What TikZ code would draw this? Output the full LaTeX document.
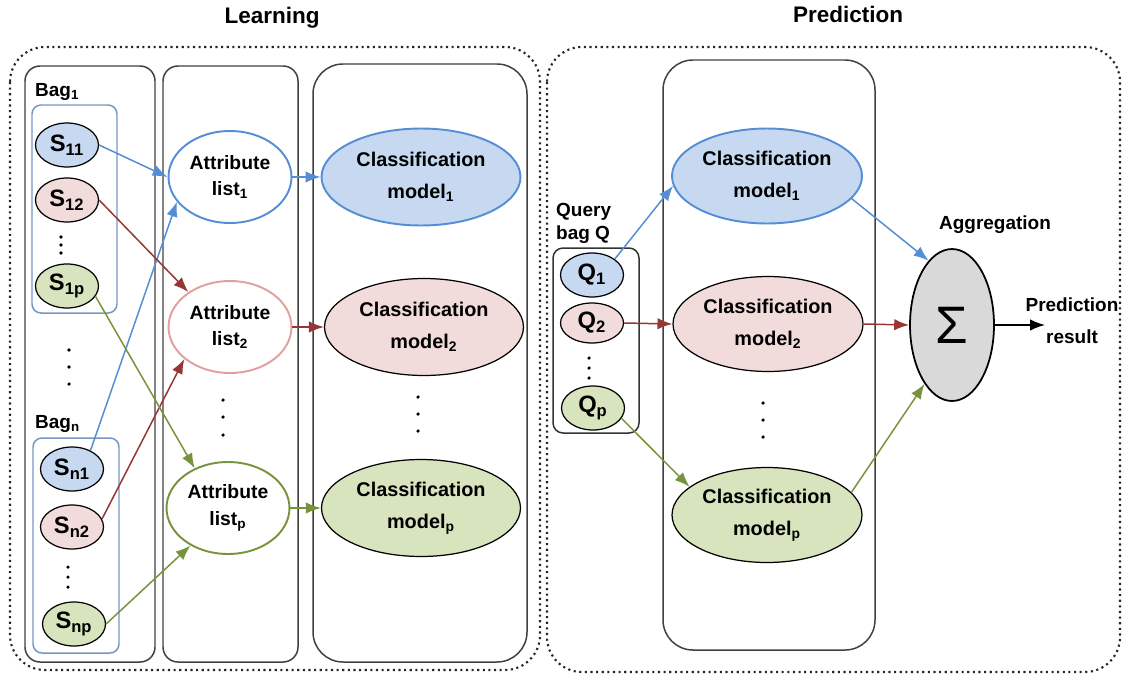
\documentclass[tikz,border=0pt]{standalone}
\usepackage{fontspec}
\setmainfont{Liberation Sans}
\usetikzlibrary{arrows.meta, positioning, shapes}
\definecolor{bluefill}{RGB}{198,217,241}
\definecolor{blueline}{RGB}{85,142,213}
\definecolor{pinkfill}{RGB}{242,220,219}
\definecolor{pinkline}{RGB}{225,160,158}
\definecolor{redline}{RGB}{149,55,53}
\definecolor{greenfill}{RGB}{215,228,189}
\definecolor{greenline}{RGB}{119,147,60}
\definecolor{bagline}{RGB}{120,150,195}
\definecolor{sigmafill}{RGB}{217,217,217}
\tikzset{
    snode/.style={ellipse, draw=black, line width=0.7pt, minimum width=1.26cm, minimum height=0.88cm, inner sep=0pt, font=\fontsize{13.5}{13.5}\selectfont\bfseries},
    attrnode/.style={ellipse, draw, fill=white, line width=1.1pt, minimum width=2.46cm, minimum height=1.84cm, inner sep=0pt, align=center, font=\fontsize{11}{15}\selectfont\bfseries},
    modelnode/.style={ellipse, draw=black, line width=0.7pt, minimum width=3.98cm, minimum height=1.94cm, inner sep=0pt, align=center, font=\fontsize{11.3}{18.5}\selectfont\bfseries},
    colbox/.style={draw=black!75, line width=0.85pt, rounded corners=0.3cm},
    bigbox/.style={draw=black!75, line width=0.85pt, rounded corners=0.6cm},
    bagbox/.style={draw=bagline, line width=0.85pt, rounded corners=0.18cm},
    dotbox/.style={draw=black!85, line width=1.2pt, dotted, rounded corners=0.7cm},
    mylabel/.style={font=\fontsize{10.8}{13}\selectfont\bfseries},
    mytitle/.style={font=\fontsize{12.8}{15}\selectfont\bfseries},
    myarrow/.style={-{Latex[length=8.5pt, width=6.5pt]}, line width=0.85pt}
}
\begin{document}
\begin{tikzpicture}[x=0.02cm, y=-0.02cm]
    \useasboundingbox (0,0) rectangle (1125,676);

    % ------------------
    % frames
    % ------------------

    \draw[dotbox] (10,47) rectangle (540,670);
    \draw[dotbox] (547,47) rectangle (1120,672);
    \node[mytitle] (learntitle) at (272,18) {Learning};
    \node[mytitle] (predtitle) at (848,14) {Prediction};

    \draw[colbox] (25,66) rectangle (155,662);
    \draw[colbox] (163,66) rectangle (298,662);
    \draw[bigbox] (313,64) rectangle (527,662);
    \draw[bigbox] (663,60) rectangle (875,650);

    \draw[bagbox] (32,105) rectangle (117,313);
    \draw[bagbox] (33,438) rectangle (119,653);
    \draw[draw=black!80, line width=0.85pt, rounded corners=0.2cm] (553,248) rectangle (639,433);

    % ------------------
    % nodes
    % ------------------

    \node[mylabel, anchor=west] (bag1) at (29,92) {Bag\textsubscript{1}};
    \node[snode, fill=bluefill] (s11) at (67,145) {S\textsubscript{11}};
    \node[snode, fill=pinkfill] (s12) at (67,200) {S\textsubscript{12}};
    \node[snode, fill=greenfill] (s1p) at (67,286) {S\textsubscript{1p}};

    \node[mylabel, anchor=west] (bagn) at (29,424) {Bag\textsubscript{n}};
    \node[snode, fill=bluefill] (sn1) at (72,469) {S\textsubscript{n1}};
    \node[snode, fill=pinkfill] (sn2) at (72,527) {S\textsubscript{n2}};
    \node[snode, fill=greenfill] (snp) at (74,624) {S\textsubscript{np}};

    \node[attrnode, draw=blueline] (attr1) at (230,177) {Attribute\\list\textsubscript{1}};
    \node[attrnode, draw=pinkline] (attr2) at (230,327) {Attribute\\list\textsubscript{2}};
    \node[attrnode, draw=greenline] (attrp) at (228,508) {Attribute\\list\textsubscript{p}};

    \node[modelnode, fill=bluefill, draw=blueline, line width=1.1pt] (model1) at (421,177) {Classification\\model\textsubscript{1}};
    \node[modelnode, fill=pinkfill] (model2) at (424,327) {Classification\\model\textsubscript{2}};
    \node[modelnode, fill=greenfill] (modelp) at (421,508) {Classification\\model\textsubscript{p}};

    \node[mylabel, anchor=west, align=left] (query) at (550,223) {Query\\bag Q};
    \node[snode, fill=bluefill] (q1) at (592,275) {Q\textsubscript{1}};
    \node[snode, fill=pinkfill, minimum height=0.8cm] (q2) at (592,323) {Q\textsubscript{2}};
    \node[snode, fill=greenfill] (qp) at (593,408) {Q\textsubscript{p}};

    \node[modelnode, minimum width=3.8cm, minimum height=1.9cm, fill=bluefill, draw=blueline, line width=1.1pt] (pm1) at (767,176) {Classification\\model\textsubscript{1}};
    \node[modelnode, minimum width=3.8cm, minimum height=1.9cm, fill=pinkfill] (pm2) at (768,324) {Classification\\model\textsubscript{2}};
    \node[modelnode, minimum width=3.8cm, minimum height=1.9cm, fill=greenfill] (pmp) at (767,515) {Classification\\model\textsubscript{p}};

    \node[ellipse, draw=black, line width=1pt, fill=sigmafill, minimum width=1.68cm, minimum height=3.04cm, inner sep=0pt, font=\fontsize{30}{30}\selectfont] (sigma) at (952,325) {Σ};
    \node[mylabel] (aggr) at (995,225) {Aggregation};
    \node[mylabel, align=center, font=\fontsize{10.8}{18}\selectfont\bfseries] (result) at (1072,321) {Prediction\\result};
    \coordinate (resend) at (1045,325);

    % vertical dots
    \foreach \y in {237,245,253} \fill (61,\y) circle (1pt);
    \foreach \y in {350,367,384} \fill (69,\y) circle (1pt);
    \foreach \y in {567,577,587} \fill (68,\y) circle (1pt);
    \foreach \y in {400,417,435} \fill (223,\y) circle (1pt);
    \foreach \y in {397,414,431} \fill (418,\y) circle (1pt);
    \foreach \y in {358,368,378} \fill (589,\y) circle (1pt);
    \foreach \y in {403,420,437} \fill (763,\y) circle (1pt);

    % ------------------
    % arrows
    % ------------------

    \draw[myarrow, blueline] (s11.east) -- (attr1.west);
    \draw[myarrow, blueline] (sn1.45) -- (attr1.205);
    \draw[myarrow, redline] (s12.east) -- (attr2.140);
    \draw[myarrow, redline] (sn2.15) -- (attr2.215);
    \draw[myarrow, greenline] (s1p.-20) -- (attrp.130);
    \draw[myarrow, greenline] (snp.east) -- (attrp.225);

    \draw[myarrow, blueline] (attr1.east) -- (model1.west);
    \draw[myarrow, redline] (attr2.east) -- (model2.west);
    \draw[myarrow, greenline] (attrp.east) -- (modelp.west);

    \draw[myarrow, blueline] (q1.35) -- (pm1.186);
    \draw[myarrow, redline] (q2.east) -- (pm2.west);
    \draw[myarrow, greenline] (qp.-20) -- (pmp.160);

    \draw[myarrow, blueline] (pm1.-15) -- (sigma.110);
    \draw[myarrow, redline] (pm2.east) -- (sigma.west);
    \draw[myarrow, greenline] (pmp.15) -- (sigma.245);
    \draw[myarrow, black] (sigma.east) -- (resend);

\end{tikzpicture}
\end{document}
